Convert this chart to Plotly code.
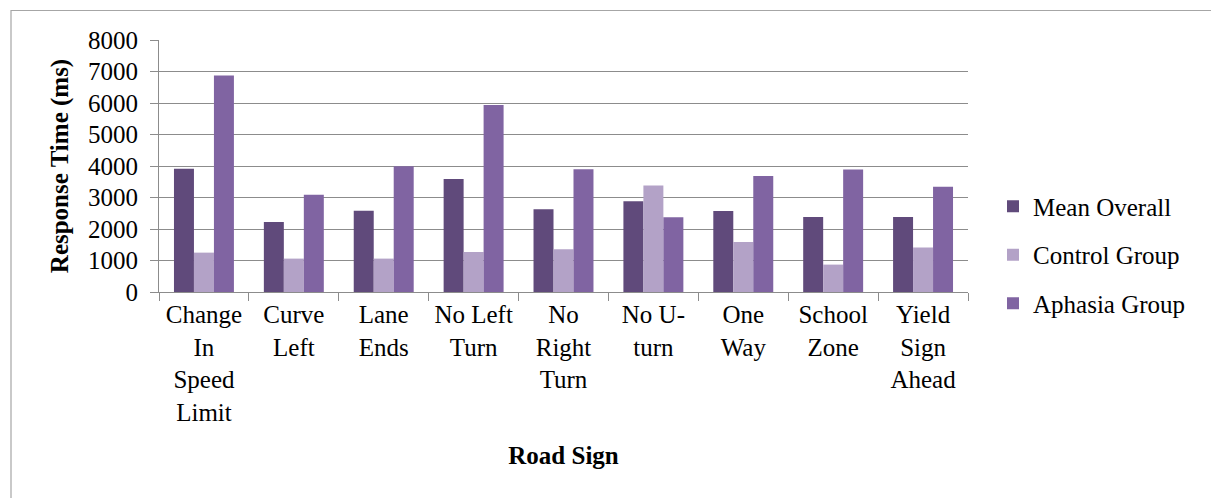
import plotly.graph_objects as go

# Road signs shown on the category axis (line breaks as they wrap under each group)
road_signs = [
    "Change<br>In<br>Speed<br>Limit",
    "Curve<br>Left",
    "Lane<br>Ends",
    "No Left<br>Turn",
    "No<br>Right<br>Turn",
    "No U-<br>turn",
    "One<br>Way",
    "School<br>Zone",
    "Yield<br>Sign<br>Ahead",
]

# Response times in milliseconds
mean_overall = [3910, 2220, 2580, 3590, 2630, 2880, 2570, 2380, 2380]
control_group = [1250, 1060, 1060, 1270, 1360, 3380, 1590, 870, 1410]
aphasia_group = [6870, 3090, 3990, 5940, 3900, 2370, 3680, 3890, 3340]

y_ticks = [0, 1000, 2000, 3000, 4000, 5000, 6000, 7000, 8000]

series = [
    ("Mean Overall", mean_overall, "#604A7B"),
    ("Control Group", control_group, "#B3A2C7"),
    ("Aphasia Group", aphasia_group, "#8064A2"),
]

W, H = 1211, 498
ML, MR, MT, MB = 159, 243, 40, 206
plot_w = W - ML - MR
plot_h = H - MT - MB

GRID = "#8C8C8C"
TXT = dict(family="Liberation Serif", size=25, color="#000000")

fig = go.Figure()
for name, values, color in series:
    fig.add_trace(go.Bar(
        x=road_signs,
        y=values,
        name=name,
        legendgroup=name,
        marker=dict(color=color, line=dict(width=0)),
    ))

# outer chart frame (left and top edges visible, the rest runs off the page)
fig.add_shape(
    type="rect", xref="paper", yref="paper",
    x0=(11 - ML) / plot_w, x1=(W + 5 - ML) / plot_w,
    y0=-(H + 5 - MT - plot_h) / plot_h, y1=(H - 10.5 - MB) / plot_h,
    line=dict(color="#A6A6A6", width=1.2), fillcolor="rgba(0,0,0,0)", layer="below",
)

fig.update_layout(
    width=W, height=H,
    margin=dict(l=ML, r=MR, t=MT, b=MB, pad=0),
    paper_bgcolor="white", plot_bgcolor="white",
    font=TXT,
    barmode="group",
    bargap=0.333,
    bargroupgap=0,
    showlegend=True,
    legend=dict(
        x=(993 - ML) / plot_w, xanchor="left",
        y=0.147, yanchor="middle",
        font=TXT,
        tracegroupgap=13,
        itemwidth=30,
        bgcolor="rgba(0,0,0,0)",
    ),
    xaxis=dict(
        type="category",
        tickson="boundaries",
        ticks="outside", ticklen=8, tickcolor=GRID, tickwidth=1,
        showline=True, linecolor=GRID, linewidth=1,
        showgrid=False,
        tickfont=TXT,
        title=dict(text="<b>Road Sign</b>", font=TXT, standoff=21),
    ),
    yaxis=dict(
        range=[0, 8000],
        tickvals=y_ticks,
        ticktext=[str(v) for v in y_ticks],
        ticks="outside", ticklen=8, tickcolor=GRID, tickwidth=1,
        showline=True, linecolor=GRID, linewidth=1,
        showgrid=True, gridcolor=GRID, gridwidth=1,
        zeroline=False,
        ticklabelstandoff=7,
        tickfont=TXT,
        title=dict(text="<b>Response Time (ms)</b>", font=TXT, standoff=12),
    ),
)

fig.write_html("out.html")
